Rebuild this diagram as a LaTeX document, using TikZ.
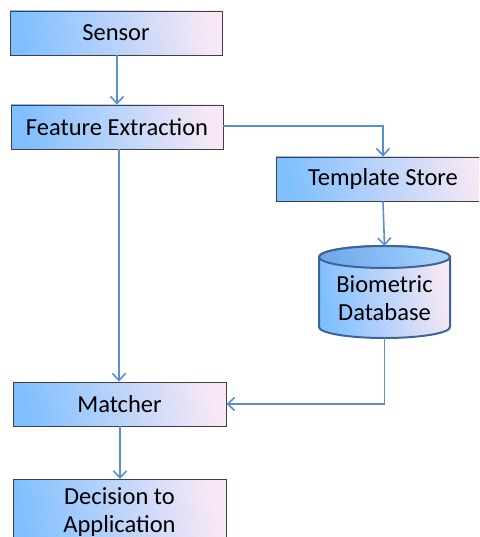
\documentclass[tikz,border=0pt]{standalone}
\usepackage{fontspec}
\setmainfont{Carlito}
\usetikzlibrary{arrows.meta}
\definecolor{boxblue}{HTML}{7FBFFF}
\definecolor{boxmid}{HTML}{C6DDF8}
\definecolor{boxpink}{HTML}{F8E8F5}
\definecolor{linkblue}{HTML}{5A8FD6}
\definecolor{cylborder}{HTML}{3D6496}
\definecolor{cyltop}{HTML}{6FA8EC}
\tikzset{
  txt/.style={font=\fontsize{24.5}{28}\selectfont},
  stepbox/.style={draw=black!75, line width=0.8pt, left color=boxblue, middle color=boxmid, right color=boxpink, shading angle=100, minimum height=44pt, inner sep=0pt, txt, align=center},
  link/.style={draw=linkblue, line width=1.6pt, -{Straight Barb[length=7pt,width=13pt,line width=1.6pt]}},
}
\begin{document}
\begin{tikzpicture}[x=1pt,y=-1pt]
\clip (0,0) rectangle (479,537);
\fill[white] (0,0) rectangle (479,537);
\node[stepbox, minimum width=212pt] (sensor) at (116,33) {Sensor};
\node[stepbox, minimum width=212pt] (feat) at (117,127) {Feature Extraction};
\node[stepbox, minimum width=214pt] (tmpl) at (383,179) {Template Store};
\node[stepbox, minimum width=213pt] (match) at (119.5,404) {Matcher};
\node[stepbox, minimum width=213pt, minimum height=90pt, anchor=north] (dec) at (119.5,479) {};
\node[txt, align=center, anchor=north] (dectext) at (119.5,484) {Decision to\\Application};
% cylinder
\shade[draw=cylborder, line width=2pt, left color=boxblue, middle color=boxmid, right color=boxpink, shading angle=100]
  (319,257) -- (319,327) arc (180:0:65.5 and 11) -- (450,257) arc (0:-180:65.5 and 11) -- cycle;
\shade[draw=cylborder, line width=2pt, left color=cyltop, right color=boxblue!70!white, shading angle=100]
  (384.5,257) ellipse (65.5 and 11);
\node[txt, align=center, minimum width=131pt, minimum height=92pt, inner sep=0pt] (db) at (384.5,298) {Biometric\\Database};
\coordinate (dbtop) at (384.5,246);
\coordinate (dbbot) at (384.5,338);
% connectors
\draw[link] (sensor.south -| 117,0) -- (feat.north -| 117,0);
\draw[link] (feat.east |- 0,126) -| (tmpl.north -| 383,0);
\draw[link] (tmpl.south -| 383,0) -- (dbtop);
\draw[link] (feat.south -| 119,0) -- (match.north -| 119,0);
\draw[link] (dbbot) |- (match.east |- 0,404);
\draw[link] (match.south -| 120,0) -- (dec.north -| 120,0);
\end{tikzpicture}
\end{document}
